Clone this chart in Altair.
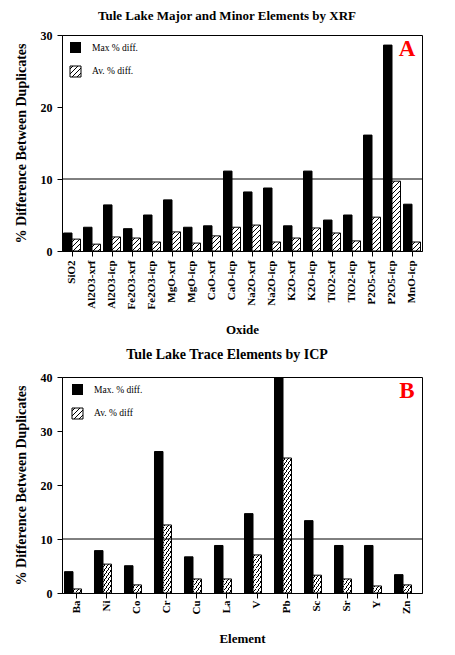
import altair as alt

# ---------------- data ----------------
oxides = ["SiO2", "Al2O3-xrf", "Al2O3-icp", "Fe2O3-xrf", "Fe2O3-icp", "MgO-xrf",
          "MgO-icp", "CaO-xrf", "CaO-icp", "Na2O-xrf", "Na2O-icp", "K2O-xrf",
          "K2O-icp", "TiO2-xrf", "TiO2-icp", "P2O5-xrf", "P2O5-icp", "MnO-icp"]
oxide_max = [2.5, 3.3, 6.4, 3.1, 5.0, 7.1, 3.3, 3.5, 11.1, 8.2, 8.75, 3.5,
             11.1, 4.3, 5.0, 16.1, 28.6, 6.5]
oxide_avg = [1.65, 0.95, 1.95, 1.8, 1.25, 2.65, 1.1, 2.1, 3.3, 3.6, 1.25, 1.8,
             3.2, 2.5, 1.4, 4.7, 9.7, 1.25]

elements = ["Ba", "Ni", "Co", "Cr", "Cu", "La", "V", "Pb", "Sc", "Sr", "Y", "Zn"]
elem_max = [3.95, 7.85, 5.05, 26.2, 6.7, 8.8, 14.7, 40.0, 13.4, 8.8, 8.8, 3.4]
elem_avg = [0.75, 5.35, 1.5, 12.6, 2.6, 2.6, 7.05, 25.0, 3.3, 2.6, 1.3, 1.5]

SERIF = "Liberation Serif"
W, H = 360, 216


def hatch(w, h, period=5.0, line=1.0):
    """Diagonal '/' hatch as a linear gradient (object bounding box units)."""
    w = max(w, 0.5)
    h = max(h, 0.5)
    total = w + h
    c = total / (w * w + h * h)
    half = line * 0.7071 / total
    stops = [{"offset": 0, "color": "white"}]
    pos = period * 0.6
    while pos < total:
        a = max(pos / total - half, 0.0)
        b = min(pos / total + half, 1.0)
        stops += [{"offset": a, "color": "white"}, {"offset": a, "color": "black"},
                  {"offset": b, "color": "black"}, {"offset": b, "color": "white"}]
        pos += period
    stops.append({"offset": 1, "color": "white"})
    return {"gradient": "linear", "x1": 0, "y1": 0, "x2": w * c, "y2": h * c,
            "stops": stops}


def panel(cats, mx, av, ymax, bar_w, pin, pout, title, tsize, xtitle, letter,
          leg1, leg2, lab_pad, xt_pad, t_off, leg_dx):
    recs = []
    for c, m, a in zip(cats, mx, av):
        recs.append({"cat": c, "s": "1max", "v": m, "f": "black"})
        recs.append({"cat": c, "s": "2av", "v": a, "f": hatch(bar_w, a * H / ymax)})
    base = alt.Chart(alt.Data(values=recs))
    bars = base.mark_bar(stroke="black", strokeWidth=1, clip=True).encode(
        x=alt.X("cat:N", sort=cats, title=xtitle,
                scale=alt.Scale(paddingInner=pin, paddingOuter=pout),
                axis=alt.Axis(labelAngle=270, labelPadding=lab_pad, titlePadding=xt_pad,
                              tickSize=5, labelFontSize=11, titleFontSize=13)),
        xOffset=alt.XOffset("s:N", scale=alt.Scale(paddingInner=0, paddingOuter=0)),
        y=alt.Y("v:Q", title="% Difference Between Duplicates",
                scale=alt.Scale(domain=[0, ymax], nice=False),
                axis=alt.Axis(values=list(range(0, ymax + 1, 10)), tickSize=5,
                              labelPadding=5, titlePadding=12, titleFontSize=14)),
        fill=alt.Fill("f:N", scale=None),
    )
    ref = alt.Chart(alt.Data(values=[{"r": 10}])).mark_rule(
        color="black", strokeWidth=1).encode(y="r:Q")
    one = alt.Data(values=[{"k": 0}])
    sq1 = alt.Chart(one).mark_rect(fill="black").encode(
        x=alt.value(8 + leg_dx), x2=alt.value(19 + leg_dx), y=alt.value(7), y2=alt.value(18))
    sq2 = alt.Chart(one).mark_rect(stroke="black", strokeWidth=1).encode(
        x=alt.value(8 + leg_dx), x2=alt.value(19 + leg_dx), y=alt.value(31), y2=alt.value(42),
        fill=alt.value(hatch(11, 11, period=5.0)))
    t1 = alt.Chart(one).mark_text(align="left", baseline="middle", font=SERIF,
                                  fontSize=9.5, color="black").encode(
        x=alt.value(30 + leg_dx), y=alt.value(13), text=alt.value(leg1))
    t2 = alt.Chart(one).mark_text(align="left", baseline="middle", font=SERIF,
                                  fontSize=9.5, color="black").encode(
        x=alt.value(30 + leg_dx), y=alt.value(36), text=alt.value(leg2))
    lt = alt.Chart(one).mark_text(align="center", baseline="middle", font=SERIF,
                                  fontSize=23, fontWeight="bold", color="#ff0000").encode(
        x=alt.value(345), y=alt.value(14), text=alt.value(letter))
    return alt.layer(bars, ref, sq1, sq2, t1, t2, lt).properties(
        width=W, height=H,
        title=alt.TitleParams(title, font=SERIF, fontSize=tsize, fontWeight="bold",
                              anchor="middle", frame="group", dx=-15, offset=t_off,
                              color="black"))


top = panel(oxides, oxide_max, oxide_avg, 30, 8.5, 0.15, 0.075,
            "Tule Lake Major and Minor Elements by XRF", 13, "Oxide", "A",
            "Max % diff.", "Av. % diff.", 4, 15, 6, 0)
bottom = panel(elements, elem_max, elem_avg, 40, 12.5, 1 / 6, 0.083,
               "Tule Lake Trace Elements by ICP", 14, "Element", "B",
               "Max. % diff.", "Av. % diff", 2, 18, 9, 2)

chart = alt.vconcat(top, bottom, spacing=9).properties(
    padding={"left": 5, "top": 1, "right": 5, "bottom": 5}
).configure_view(stroke="black", strokeWidth=1).configure_axis(
    grid=False, domainColor="black", tickColor="black", labelColor="black",
    titleColor="black", labelFont=SERIF, titleFont=SERIF, labelFontSize=12,
    labelFontWeight="bold", titleFontSize=13.5, titleFontWeight="bold"
)

chart.save("out.html", embed_options={"renderer": "svg", "actions": False})
